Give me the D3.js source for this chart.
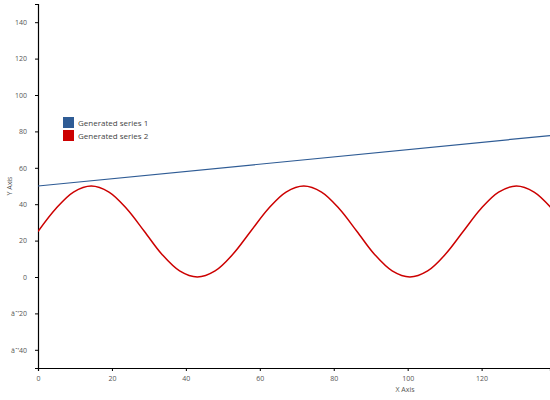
<!DOCTYPE html><html><head><script src="https://cdn.jsdelivr.net/npm/d3@7"></script>
<style>body{margin:0;background:#fff}text{font-family:"Open Sans",sans-serif}</style></head><body>
<svg id="c" width="550" height="400"></svg>
<script>
const series1X=[0,138.5];
const series1Y=[50,77.7];
const series2X=[0,4.8,9.6,14.4,19.2,24,28.8,33.5,38.3,43.1,47.9,52.7,57.5,62.3,67.1,71.9,76.7,81.5,86.3,91,95.8,100.6,105.4,110.2,115,119.8,124.6,129.4,134.2,139];
const series2Y=[25,37.5,46.65,50,46.65,37.5,25,12.5,3.35,0,3.35,12.5,25,37.5,46.65,50,46.65,37.5,25,12.5,3.35,0,3.35,12.5,25,37.5,46.65,50,46.65,37.5];
const xTicks=[0,20,40,60,80,100,120];
const yTicks=[-40,-20,0,20,40,60,80,100,120,140];
const names=["Generated series 1","Generated series 2"];
const colors=["#2f5c95","#cc0000"];
const svg=d3.select("#c");
const L=38,R=550,T=4,B=368;
const x=d3.scaleLinear().domain([0,138.5]).range([L,R]);
const y=d3.scaleLinear().domain([-50,150]).range([B,T]);
svg.append("clipPath").attr("id","cp").append("rect").attr("x",L).attr("y",T).attr("width",R-L).attr("height",B-T);
const ya=svg.append("g").attr("transform",`translate(${L},0)`).call(d3.axisLeft(y).tickValues(yTicks).tickSize(3).tickPadding(8));
const xa=svg.append("g").attr("transform",`translate(0,${B})`).call(d3.axisBottom(x).tickValues(xTicks).tickSize(3).tickPadding(5));
[ya,xa].forEach(a=>{a.selectAll("text").attr("font-size",7).attr("fill","#555");a.select(".domain").attr("stroke","#000").attr("stroke-width",1.2);a.selectAll(".tick line").attr("stroke","#000")});
svg.append("text").attr("x",405).attr("y",392).attr("font-size",7).attr("fill","#555").attr("text-anchor","middle").text("X Axis");
svg.append("text").attr("transform","translate(12,186) rotate(-90)").attr("font-size",7).attr("fill","#555").attr("text-anchor","middle").text("Y Axis");
const g=svg.append("g").attr("clip-path","url(#cp)");
g.append("path").datum(series1X.map((v,i)=>[v,series1Y[i]])).attr("d",d3.line().x(d=>x(d[0])).y(d=>y(d[1]))).attr("fill","none").attr("stroke",colors[0]).attr("stroke-width",1.2);
g.append("path").datum(series2X.map((v,i)=>[v,series2Y[i]])).attr("d",d3.line().curve(d3.curveCatmullRom).x(d=>x(d[0])).y(d=>y(d[1]))).attr("fill","none").attr("stroke",colors[1]).attr("stroke-width",1.5);
names.forEach((n,i)=>{
 svg.append("rect").attr("x",63).attr("y",117+i*13).attr("width",11).attr("height",11).attr("fill",colors[i]);
 svg.append("text").attr("x",78).attr("y",125.5+i*13).attr("font-size",8).attr("fill","#444").text(n);
});
</script></body></html>
